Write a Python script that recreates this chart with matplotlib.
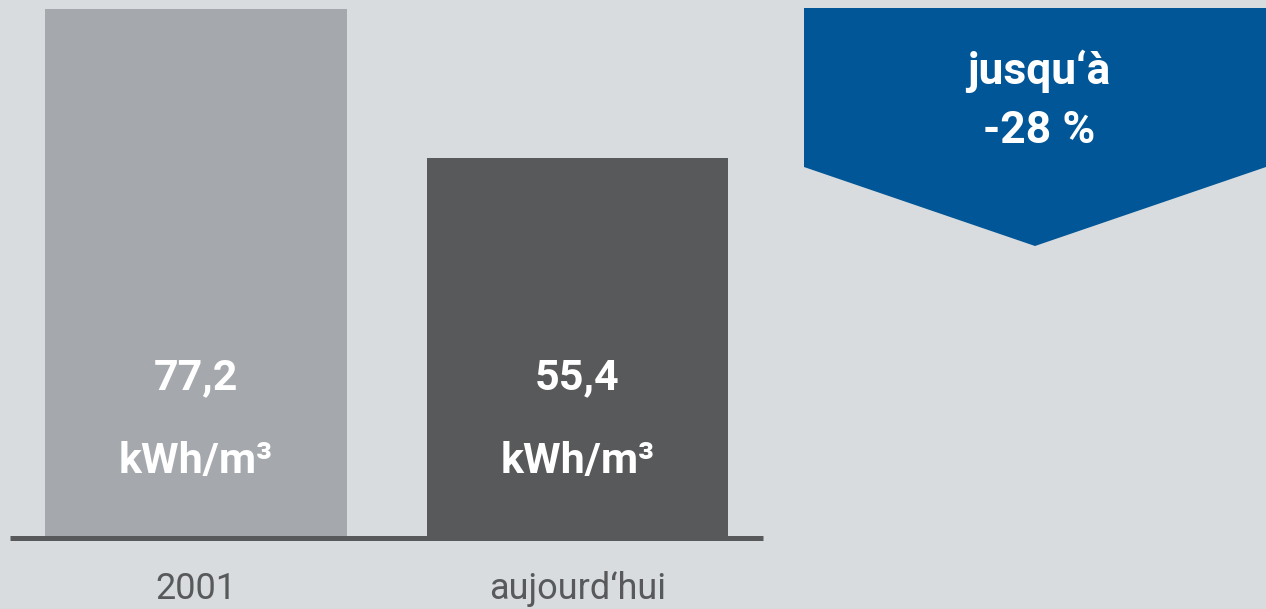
import matplotlib.pyplot as plt
from matplotlib.patches import Polygon

# donnees
categories = ['2001', 'aujourd‘hui']
valeurs = [77.2, 55.4]
etiquettes = ['77,2', '55,4']
unite = 'kWh/m³'
badge = 'jusqu‘à\n-28 %'

fond = '#d9dcdf'
couleurs = ['#a5a9ad', '#58595b']
bleu = '#005696'
gris_txt = '#58595b'

plt.rcParams['font.family'] = ['Roboto', 'DejaVu Sans']

W, H = 1266, 609
fig = plt.figure(figsize=(W / 100, H / 100), dpi=100, facecolor=fond)

# axes des barres : de x=10 a 763 px, baseline a 538 px, haut a 9 px
ax = fig.add_axes([10 / W, (H - 538) / H, 753 / W, 529 / H])
ax.set_facecolor(fond)
x = range(len(valeurs))
ax.bar(x, valeurs, width=0.79, color=couleurs, zorder=1)
ax.set_xlim(-0.4876, 1.4862)
ax.set_ylim(0, valeurs[0])

for s in ['top', 'left', 'right']:
    ax.spines[s].set_visible(False)
ax.spines['bottom'].set_color(gris_txt)
ax.spines['bottom'].set_linewidth(3.6)
ax.spines['bottom'].set_capstyle('butt')
ax.spines['bottom'].set_zorder(3)
ax.set_yticks([])
ax.set_xticks(list(x))
ax.set_xticklabels(categories, fontsize=26, color=gris_txt)
ax.tick_params(axis='x', length=0, pad=24)

tr = ax.get_xaxis_transform()
for i, lab in enumerate(etiquettes):
    ax.text(i, 160 / 529, lab, transform=tr, ha='center', va='center',
            fontsize=31, fontweight='bold', color='white')
    ax.text(i, 76 / 529, unite, transform=tr, ha='center', va='center',
            fontsize=31, fontweight='bold', color='white')

# fleche bleue
ov = fig.add_axes([0, 0, 1, 1])
ov.set_xlim(0, W)
ov.set_ylim(H, 0)
ov.axis('off')
ov.patch.set_alpha(0)
ov.add_patch(Polygon([(804, 8), (1266, 8), (1266, 167), (1035, 246), (804, 167)],
                     closed=True, facecolor=bleu, edgecolor='none'))
ov.text(1039, 101, badge, ha='center', va='center', fontsize=32,
        fontweight='bold', color='white', linespacing=1.5)

fig.savefig('out.png', dpi=100, facecolor=fond)
